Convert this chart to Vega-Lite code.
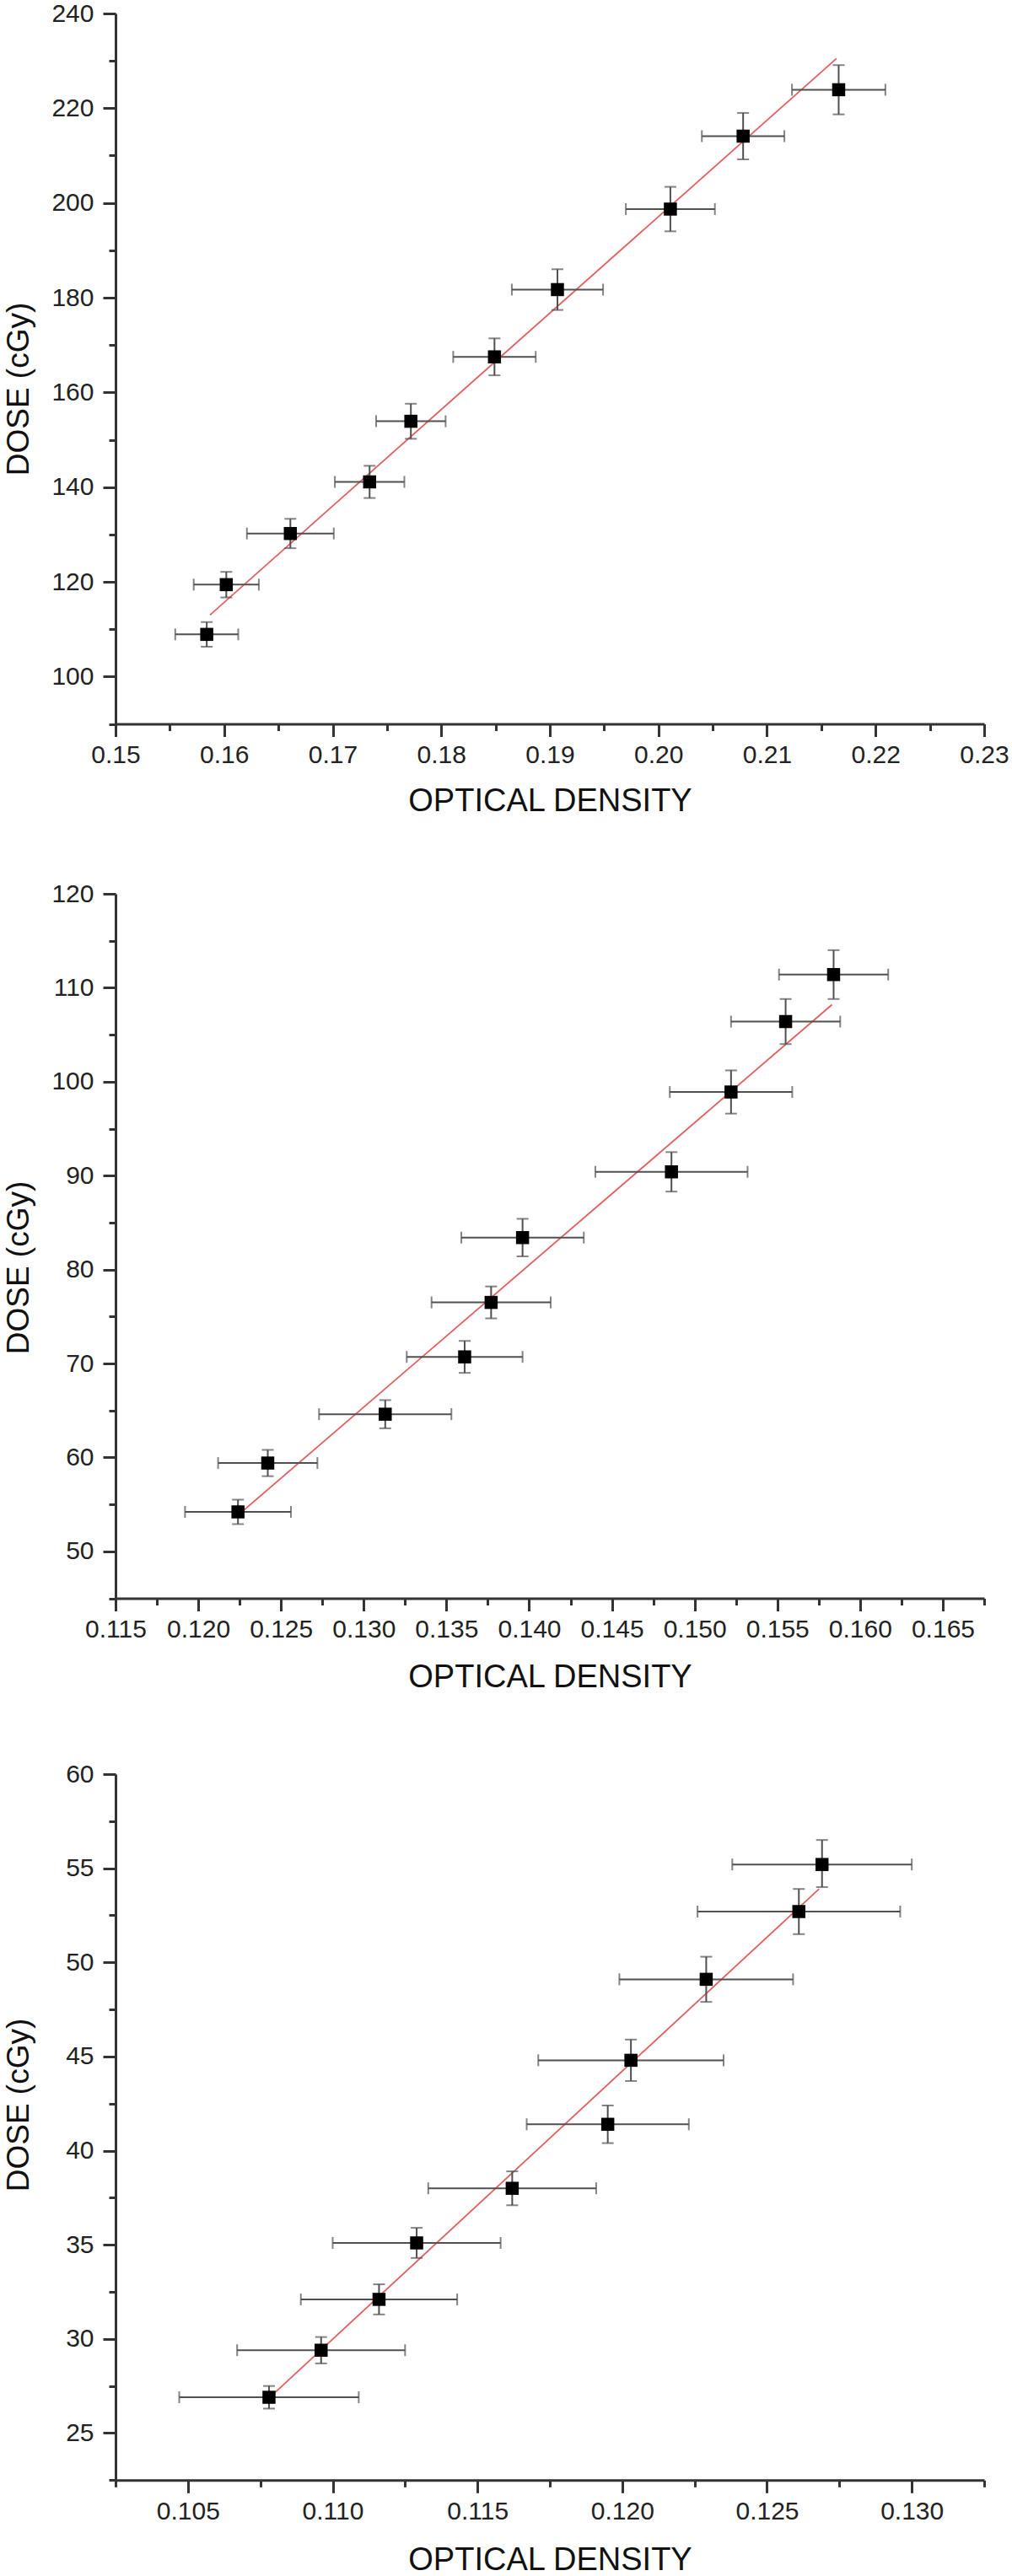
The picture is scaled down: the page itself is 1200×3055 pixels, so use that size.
{
  "$schema": "https://vega.github.io/schema/vega-lite/v6.json",
  "background": "white",
  "padding": {"left": 3, "top": 1, "right": 0, "bottom": 0},
  "bounds": "flush",
  "spacing": 201,
  "config": {
    "view": {"stroke": null},
    "axis": {
      "grid": false,
      "domainColor": "#333333",
      "domainWidth": 3,
      "tickColor": "#333333",
      "tickWidth": 3,
      "labelFont": "Liberation Sans",
      "labelFontSize": 30,
      "labelColor": "#222222",
      "labelFlush": false,
      "labelOverlap": false,
      "titleFont": "Liberation Sans",
      "titleFontSize": 38,
      "titleFontWeight": "normal",
      "titleColor": "#111111"
    },
    "axisLeft": {"titleFontSize": 37}
  },
  "datasets": {
    "p1": [
      {"x": 0.1584, "y": 108.9, "xlo": 0.1555, "xhi": 0.1613, "ylo": 106.3, "yhi": 111.5},
      {"x": 0.1602, "y": 119.4, "xlo": 0.1572, "xhi": 0.1632, "ylo": 116.7, "yhi": 122.1},
      {"x": 0.1661, "y": 130.2, "xlo": 0.1621, "xhi": 0.1701, "ylo": 127.1, "yhi": 133.3},
      {"x": 0.1734, "y": 141.1, "xlo": 0.1702, "xhi": 0.1766, "ylo": 137.7, "yhi": 144.5},
      {"x": 0.1772, "y": 153.9, "xlo": 0.1740, "xhi": 0.1804, "ylo": 150.2, "yhi": 157.6},
      {"x": 0.1849, "y": 167.5, "xlo": 0.1811, "xhi": 0.1887, "ylo": 163.6, "yhi": 171.4},
      {"x": 0.1907, "y": 181.7, "xlo": 0.1865, "xhi": 0.1949, "ylo": 177.4, "yhi": 186.0},
      {"x": 0.2011, "y": 198.7, "xlo": 0.1970, "xhi": 0.2052, "ylo": 194.0, "yhi": 203.4},
      {"x": 0.2078, "y": 214.1, "xlo": 0.2040, "xhi": 0.2116, "ylo": 209.2, "yhi": 219.0},
      {"x": 0.2166, "y": 223.9, "xlo": 0.2123, "xhi": 0.2209, "ylo": 218.7, "yhi": 229.1}
    ],
    "p2": [
      {"x": 0.1224, "y": 54.2, "xlo": 0.1192, "xhi": 0.1256, "ylo": 52.9, "yhi": 55.5},
      {"x": 0.1242, "y": 59.4, "xlo": 0.1212, "xhi": 0.1272, "ylo": 58.0, "yhi": 60.8},
      {"x": 0.1313, "y": 64.6, "xlo": 0.1273, "xhi": 0.1353, "ylo": 63.1, "yhi": 66.1},
      {"x": 0.1361, "y": 70.7, "xlo": 0.1326, "xhi": 0.1396, "ylo": 69.0, "yhi": 72.4},
      {"x": 0.1377, "y": 76.5, "xlo": 0.1341, "xhi": 0.1413, "ylo": 74.8, "yhi": 78.2},
      {"x": 0.1396, "y": 83.4, "xlo": 0.1359, "xhi": 0.1433, "ylo": 81.4, "yhi": 85.4},
      {"x": 0.1486, "y": 90.4, "xlo": 0.1440, "xhi": 0.1532, "ylo": 88.3, "yhi": 92.5},
      {"x": 0.1522, "y": 98.9, "xlo": 0.1485, "xhi": 0.1559, "ylo": 96.6, "yhi": 101.2},
      {"x": 0.1555, "y": 106.4, "xlo": 0.1522, "xhi": 0.1588, "ylo": 104.0, "yhi": 108.8},
      {"x": 0.1584, "y": 111.4, "xlo": 0.1551, "xhi": 0.1617, "ylo": 108.8, "yhi": 114.0}
    ],
    "p3": [
      {"x": 0.1078, "y": 26.9, "xlo": 0.1047, "xhi": 0.1109, "ylo": 26.3, "yhi": 27.5},
      {"x": 0.1096, "y": 29.4, "xlo": 0.1067, "xhi": 0.1125, "ylo": 28.7, "yhi": 30.1},
      {"x": 0.1116, "y": 32.1, "xlo": 0.1089, "xhi": 0.1143, "ylo": 31.3, "yhi": 32.9},
      {"x": 0.1129, "y": 35.1, "xlo": 0.1100, "xhi": 0.1158, "ylo": 34.3, "yhi": 35.9},
      {"x": 0.1162, "y": 38.0, "xlo": 0.1133, "xhi": 0.1191, "ylo": 37.1, "yhi": 38.9},
      {"x": 0.1195, "y": 41.4, "xlo": 0.1167, "xhi": 0.1223, "ylo": 40.4, "yhi": 42.4},
      {"x": 0.1203, "y": 44.8, "xlo": 0.1171, "xhi": 0.1235, "ylo": 43.7, "yhi": 45.9},
      {"x": 0.1229, "y": 49.1, "xlo": 0.1199, "xhi": 0.1259, "ylo": 47.9, "yhi": 50.3},
      {"x": 0.1261, "y": 52.7, "xlo": 0.1226, "xhi": 0.1296, "ylo": 51.5, "yhi": 53.9},
      {"x": 0.1269, "y": 55.2, "xlo": 0.1238, "xhi": 0.1300, "ylo": 54.0, "yhi": 56.5}
    ],
    "l1": [{"x": 0.1587, "y": 113.0}, {"x": 0.2164, "y": 230.5}],
    "l2": [{"x": 0.1227, "y": 54.3}, {"x": 0.1583, "y": 108.2}],
    "l3": [{"x": 0.1079, "y": 27.0}, {"x": 0.1268, "y": 53.9}]
  },
  "vconcat": [
    {
      "width": 1030,
      "height": 842.5,
      "layer": [
        {
          "data": {"name": "l1"},
          "mark": {"type": "line", "color": "#e06060", "strokeWidth": 1.8},
          "encoding": {
            "x": {"field": "x", "type": "quantitative",
              "scale": {"domain": [0.15, 0.23], "nice": false, "zero": false},
              "axis": {
                "title": "OPTICAL DENSITY", "titleY": 92, "titleBaseline": "middle",
                "values": [0.15,0.155,0.16,0.165,0.17,0.175,0.18,0.185,0.19,0.195,0.2,0.205,0.21,0.215,0.22,0.225,0.23],
                "labelExpr": "abs(datum.value*100 - round(datum.value*100)) < 0.001 ? format(datum.value, '.2f') : ''",
                "tickSize": {"condition": {"test": "abs(datum.value*100 - round(datum.value*100)) < 0.001", "value": 15}, "value": 8},
                "labelPadding": 7
              }},
            "y": {"field": "y", "type": "quantitative",
              "scale": {"domain": [90, 240], "nice": false, "zero": false},
              "axis": {
                "title": "DOSE (cGy)", "titleX": -115, "titleY": 445, "titleBaseline": "middle",
                "values": [90,100,110,120,130,140,150,160,170,180,190,200,210,220,230,240],
                "labelExpr": "datum.value % 20 == 0 ? format(datum.value, 'd') : ''",
                "tickSize": {"condition": {"test": "datum.value % 20 == 0", "value": 15}, "value": 8},
                "labelPadding": 11
              }}
          }
        },
        {
          "data": {"name": "p1"},
          "mark": {"type": "rule", "color": "#505050", "strokeWidth": 2},
          "encoding": {"x": {"field": "xlo", "type": "quantitative"}, "x2": {"field": "xhi"}, "y": {"field": "y", "type": "quantitative"}}
        },
        {
          "data": {"name": "p1"},
          "mark": {"type": "rule", "color": "#505050", "strokeWidth": 2},
          "encoding": {"x": {"field": "x", "type": "quantitative"}, "y": {"field": "ylo", "type": "quantitative"}, "y2": {"field": "yhi"}}
        },
        {
          "data": {"name": "p1"},
          "mark": {"type": "tick", "orient": "vertical", "color": "#505050", "thickness": 2, "size": 14},
          "encoding": {"x": {"field": "xlo", "type": "quantitative"}, "y": {"field": "y", "type": "quantitative"}}
        },
        {
          "data": {"name": "p1"},
          "mark": {"type": "tick", "orient": "vertical", "color": "#505050", "thickness": 2, "size": 14},
          "encoding": {"x": {"field": "xhi", "type": "quantitative"}, "y": {"field": "y", "type": "quantitative"}}
        },
        {
          "data": {"name": "p1"},
          "mark": {"type": "tick", "orient": "horizontal", "color": "#505050", "thickness": 2, "size": 14},
          "encoding": {"x": {"field": "x", "type": "quantitative"}, "y": {"field": "ylo", "type": "quantitative"}}
        },
        {
          "data": {"name": "p1"},
          "mark": {"type": "tick", "orient": "horizontal", "color": "#505050", "thickness": 2, "size": 14},
          "encoding": {"x": {"field": "x", "type": "quantitative"}, "y": {"field": "yhi", "type": "quantitative"}}
        },
        {
          "data": {"name": "p1"},
          "mark": {"type": "point", "shape": "square", "filled": true, "color": "#000000", "size": 240, "opacity": 1},
          "encoding": {"x": {"field": "x", "type": "quantitative"}, "y": {"field": "y", "type": "quantitative"}}
        }
      ]
    },
    {
      "bounds": "flush",
      "spacing": 208,
      "vconcat": [
        {
          "width": 1030,
          "height": 835.5,
          "layer": [
            {
              "data": {"name": "l2"},
              "mark": {"type": "line", "color": "#e06060", "strokeWidth": 1.8},
              "encoding": {
                "x": {"field": "x", "type": "quantitative",
                  "scale": {"domain": [0.115, 0.1675], "nice": false, "zero": false},
                  "axis": {
                    "title": "OPTICAL DENSITY", "titleY": 94, "titleBaseline": "middle",
                    "values": [0.115,0.1175,0.12,0.1225,0.125,0.1275,0.13,0.1325,0.135,0.1375,0.14,0.1425,0.145,0.1475,0.15,0.1525,0.155,0.1575,0.16,0.1625,0.165,0.1675],
                    "labelExpr": "abs(datum.value*200 - round(datum.value*200)) < 0.001 ? format(datum.value, '.3f') : ''",
                    "tickSize": {"condition": {"test": "abs(datum.value*200 - round(datum.value*200)) < 0.001", "value": 15}, "value": 8},
                    "labelPadding": 7
                  }},
                "y": {"field": "y", "type": "quantitative",
                  "scale": {"domain": [45, 120], "nice": false, "zero": false},
                  "axis": {
                    "title": "DOSE (cGy)", "titleX": -115, "titleY": 443, "titleBaseline": "middle",
                    "values": [45,50,55,60,65,70,75,80,85,90,95,100,105,110,115,120],
                    "labelExpr": "datum.value % 10 == 0 ? format(datum.value, 'd') : ''",
                    "tickSize": {"condition": {"test": "datum.value % 10 == 0", "value": 15}, "value": 8},
                    "labelPadding": 11
                  }}
              }
            },
            {
              "data": {"name": "p2"},
              "mark": {"type": "rule", "color": "#505050", "strokeWidth": 2},
              "encoding": {"x": {"field": "xlo", "type": "quantitative"}, "x2": {"field": "xhi"}, "y": {"field": "y", "type": "quantitative"}}
            },
            {
              "data": {"name": "p2"},
              "mark": {"type": "rule", "color": "#505050", "strokeWidth": 2},
              "encoding": {"x": {"field": "x", "type": "quantitative"}, "y": {"field": "ylo", "type": "quantitative"}, "y2": {"field": "yhi"}}
            },
            {
              "data": {"name": "p2"},
              "mark": {"type": "tick", "orient": "vertical", "color": "#505050", "thickness": 2, "size": 14},
              "encoding": {"x": {"field": "xlo", "type": "quantitative"}, "y": {"field": "y", "type": "quantitative"}}
            },
            {
              "data": {"name": "p2"},
              "mark": {"type": "tick", "orient": "vertical", "color": "#505050", "thickness": 2, "size": 14},
              "encoding": {"x": {"field": "xhi", "type": "quantitative"}, "y": {"field": "y", "type": "quantitative"}}
            },
            {
              "data": {"name": "p2"},
              "mark": {"type": "tick", "orient": "horizontal", "color": "#505050", "thickness": 2, "size": 14},
              "encoding": {"x": {"field": "x", "type": "quantitative"}, "y": {"field": "ylo", "type": "quantitative"}}
            },
            {
              "data": {"name": "p2"},
              "mark": {"type": "tick", "orient": "horizontal", "color": "#505050", "thickness": 2, "size": 14},
              "encoding": {"x": {"field": "x", "type": "quantitative"}, "y": {"field": "yhi", "type": "quantitative"}}
            },
            {
              "data": {"name": "p2"},
              "mark": {"type": "point", "shape": "square", "filled": true, "color": "#000000", "size": 240, "opacity": 1},
              "encoding": {"x": {"field": "x", "type": "quantitative"}, "y": {"field": "y", "type": "quantitative"}}
            }
          ]
        },
        {
          "width": 1030,
          "height": 837.3,
          "layer": [
            {
              "data": {"name": "l3"},
              "mark": {"type": "line", "color": "#e06060", "strokeWidth": 1.8},
              "encoding": {
                "x": {"field": "x", "type": "quantitative",
                  "scale": {"domain": [0.1025, 0.1325], "nice": false, "zero": false},
                  "axis": {
                    "title": "OPTICAL DENSITY", "titleY": 95, "titleBaseline": "middle",
                    "values": [0.1025,0.105,0.1075,0.11,0.1125,0.115,0.1175,0.12,0.1225,0.125,0.1275,0.13,0.1325],
                    "labelExpr": "abs(datum.value*200 - round(datum.value*200)) < 0.001 ? format(datum.value, '.3f') : ''",
                    "tickSize": {"condition": {"test": "abs(datum.value*200 - round(datum.value*200)) < 0.001", "value": 15}, "value": 8},
                    "labelPadding": 7
                  }},
                "y": {"field": "y", "type": "quantitative",
                  "scale": {"domain": [22.5, 60], "nice": false, "zero": false},
                  "axis": {
                    "title": "DOSE (cGy)", "titleX": -115, "titleY": 392, "titleBaseline": "middle",
                    "values": [22.5,25,27.5,30,32.5,35,37.5,40,42.5,45,47.5,50,52.5,55,57.5,60],
                    "labelExpr": "datum.value % 5 == 0 ? format(datum.value, 'd') : ''",
                    "tickSize": {"condition": {"test": "datum.value % 5 == 0", "value": 15}, "value": 8},
                    "labelPadding": 11
                  }}
              }
            },
            {
              "data": {"name": "p3"},
              "mark": {"type": "rule", "color": "#505050", "strokeWidth": 2},
              "encoding": {"x": {"field": "xlo", "type": "quantitative"}, "x2": {"field": "xhi"}, "y": {"field": "y", "type": "quantitative"}}
            },
            {
              "data": {"name": "p3"},
              "mark": {"type": "rule", "color": "#505050", "strokeWidth": 2},
              "encoding": {"x": {"field": "x", "type": "quantitative"}, "y": {"field": "ylo", "type": "quantitative"}, "y2": {"field": "yhi"}}
            },
            {
              "data": {"name": "p3"},
              "mark": {"type": "tick", "orient": "vertical", "color": "#505050", "thickness": 2, "size": 14},
              "encoding": {"x": {"field": "xlo", "type": "quantitative"}, "y": {"field": "y", "type": "quantitative"}}
            },
            {
              "data": {"name": "p3"},
              "mark": {"type": "tick", "orient": "vertical", "color": "#505050", "thickness": 2, "size": 14},
              "encoding": {"x": {"field": "xhi", "type": "quantitative"}, "y": {"field": "y", "type": "quantitative"}}
            },
            {
              "data": {"name": "p3"},
              "mark": {"type": "tick", "orient": "horizontal", "color": "#505050", "thickness": 2, "size": 14},
              "encoding": {"x": {"field": "x", "type": "quantitative"}, "y": {"field": "ylo", "type": "quantitative"}}
            },
            {
              "data": {"name": "p3"},
              "mark": {"type": "tick", "orient": "horizontal", "color": "#505050", "thickness": 2, "size": 14},
              "encoding": {"x": {"field": "x", "type": "quantitative"}, "y": {"field": "yhi", "type": "quantitative"}}
            },
            {
              "data": {"name": "p3"},
              "mark": {"type": "point", "shape": "square", "filled": true, "color": "#000000", "size": 240, "opacity": 1},
              "encoding": {"x": {"field": "x", "type": "quantitative"}, "y": {"field": "y", "type": "quantitative"}}
            }
          ]
        }
      ]
    }
  ]
}
